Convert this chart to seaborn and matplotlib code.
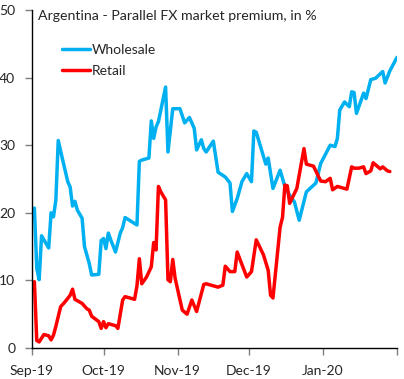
import pandas as pd
import matplotlib
matplotlib.use("Agg")
import matplotlib.pyplot as plt
import seaborn as sns

# days counted from 1 Sep 2019
start = pd.Timestamp("2019-09-01")

wholesale_day = [1, 2, 3, 4, 5, 7, 8, 9, 10, 11,
                 13, 15, 16, 17, 18, 19, 21, 22, 24, 25,
                 28, 29, 30, 31, 32, 33, 35, 37, 38, 39,
                 44, 45, 46, 49, 50, 51, 52, 53, 56, 57,
                 59, 62, 64, 66, 68, 69, 71, 72, 73, 76,
                 78, 81, 83, 84, 86, 88, 90, 92, 93, 94,
                 98, 99, 101, 104, 106, 108, 110, 112, 115, 119,
                 121, 125, 127, 128, 129, 131, 133, 134, 135, 136,
                 139, 140, 142, 144, 147, 148, 150, 153]
wholesale_pct = [20.7, 11.8, 10.1, 16.6, 16.0, 14.8, 20.0, 19.4, 21.9, 30.7,
                 27.6, 24.6, 23.8, 21.0, 21.7, 20.4, 19.2, 15.0, 12.5, 10.8,
                 10.9, 15.9, 16.2, 14.7, 17.0, 16.0, 14.2, 17.0, 17.8, 19.3,
                 18.2, 27.6, 27.8, 28.1, 33.6, 31.0, 32.7, 33.5, 38.6, 29.0,
                 35.4, 35.4, 33.3, 34.1, 32.5, 29.3, 30.8, 29.5, 29.0, 30.6,
                 26.0, 25.3, 24.4, 20.2, 22.1, 24.6, 25.8, 24.6, 32.1, 31.9,
                 27.2, 28.1, 23.6, 26.3, 23.9, 22.6, 21.6, 18.9, 23.1, 24.4,
                 27.3, 30.0, 29.8, 31.0, 35.2, 36.4, 35.7, 37.9, 37.8, 34.7,
                 37.7, 36.9, 39.7, 39.9, 40.9, 39.2, 41.0, 43.0]

retail_day = [1, 2, 3, 5, 7, 8, 9, 10, 12, 14,
              16, 17, 18, 21, 23, 24, 25, 28, 29, 30,
              31, 32, 35, 36, 38, 39, 43, 44, 45, 46,
              48, 50, 51, 52, 53, 54, 56, 57, 58, 59,
              60, 63, 65, 67, 69, 72, 73, 78, 80, 81,
              83, 85, 86, 90, 92, 94, 97, 99, 100, 101,
              104, 105, 106, 107, 108, 111, 114, 115, 118, 121,
              123, 125, 126, 128, 130, 132, 134, 135, 137, 139,
              140, 142, 143, 146, 147, 149, 150]
retail_pct = [9.8, 1.1, 0.9, 2.0, 1.8, 1.2, 1.9, 3.2, 6.1, 6.9,
              7.8, 8.7, 7.2, 6.6, 5.8, 5.6, 4.7, 3.9, 2.9, 3.9,
              3.0, 3.6, 3.3, 2.9, 7.1, 7.6, 7.2, 9.2, 13.2, 9.5,
              10.5, 12.0, 15.6, 14.5, 23.9, 23.1, 21.9, 10.1, 9.8, 13.1,
              10.3, 5.6, 5.0, 7.1, 5.4, 9.4, 9.5, 9.0, 9.3, 12.1,
              11.3, 11.3, 14.2, 10.5, 11.3, 16.0, 13.8, 11.5, 7.8, 7.4,
              17.9, 19.3, 24.1, 24.0, 21.4, 23.6, 29.5, 27.2, 26.9, 24.7,
              24.6, 25.1, 23.4, 23.9, 23.7, 23.5, 26.8, 26.6, 26.6, 26.8,
              25.8, 26.2, 27.4, 26.5, 26.8, 26.2, 26.1]

month_ticks = ["2019-09-01", "2019-10-01", "2019-11-01", "2019-12-01", "2020-01-01", "2020-02-01"]
tick_labels = ["Sep-19", "Oct-19", "Nov-19", "Dec-19", "Jan-20", ""]
y_ticks = [0, 10, 20, 30, 40, 50]

df = pd.concat([
    pd.DataFrame({"date": start + pd.to_timedelta(wholesale_day, unit="D"),
                  "premium": wholesale_pct, "series": "Wholesale"}),
    pd.DataFrame({"date": start + pd.to_timedelta(retail_day, unit="D"),
                  "premium": retail_pct, "series": "Retail"}),
], ignore_index=True)

sns.set_style("ticks")
plt.rcParams["font.family"] = ["Lato", "DejaVu Sans"]

fig = plt.figure(figsize=(4.04, 3.79), dpi=100)
ax = fig.add_axes([0.0792, 0.0818, 0.9035, 0.8918])

sns.lineplot(data=df, x="date", y="premium", hue="series",
             palette={"Wholesale": "#00B0F0", "Retail": "#FF0000"},
             linewidth=2.5, ax=ax)

ax.set_xlim(pd.Timestamp(month_ticks[0]), pd.Timestamp(month_ticks[-1]))
ax.set_ylim(0, 50)
ax.set_xticks(pd.to_datetime(month_ticks))
ax.set_xticklabels(tick_labels)
ax.set_yticks(y_ticks)
ax.set_xlabel("")
ax.set_ylabel("")
ax.tick_params(axis="both", labelsize=10, length=5, width=1, color="#7f7f7f", pad=7)

sns.despine(ax=ax)
for s in ["left", "bottom"]:
    ax.spines[s].set_color("black")
    ax.spines[s].set_linewidth(1)

ax.text(0.016, 0.982, "Argentina - Parallel FX market premium, in %",
        transform=ax.transAxes, ha="left", va="center", fontsize=10.2)

ax.legend(loc="upper left", bbox_to_anchor=(0.082, 0.90), frameon=False,
          fontsize=10, handlelength=2.0, handletextpad=0.15,
          labelspacing=0.65, borderpad=0, borderaxespad=0)

fig.savefig("out.png", dpi=100)
